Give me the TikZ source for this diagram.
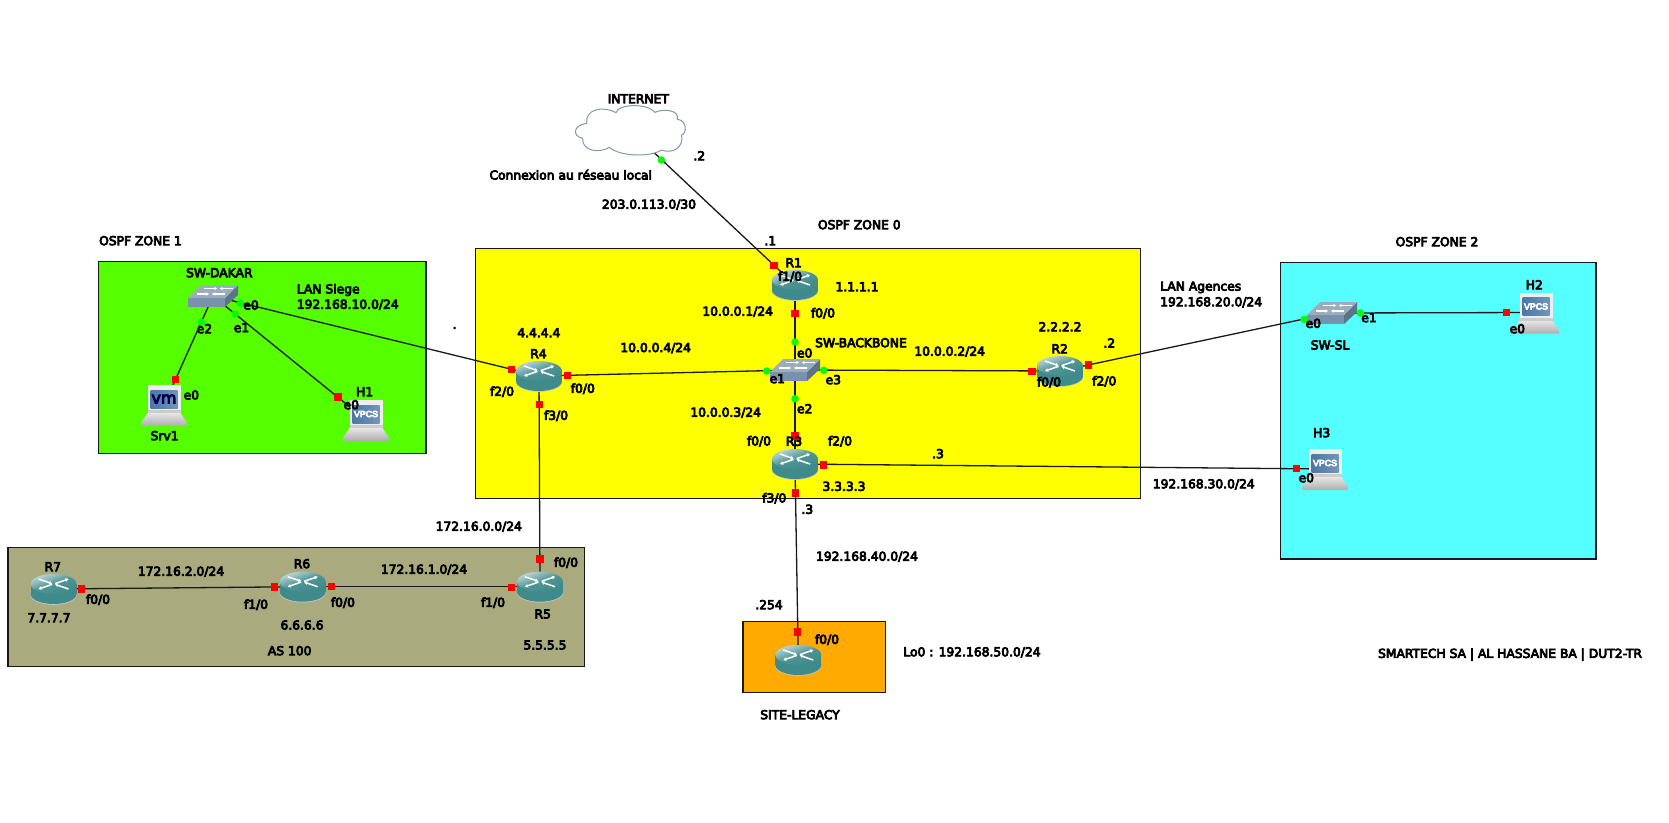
\documentclass[tikz,border=0pt]{standalone}
\usepackage{fontspec}
\usetikzlibrary{arrows.meta}
\setmainfont{DejaVu Sans}
\newfontfamily\lblfont[FakeBold=6]{DejaVu Sans}
\newfontfamily\iconfont[FakeBold=8]{Liberation Sans}
\pgfdeclarelayer{zones}
\pgfdeclarelayer{edges}
\pgfsetlayers{zones,edges,main}
\definecolor{zgreen}{HTML}{55FF00}
\definecolor{zyellow}{HTML}{FFFF00}
\definecolor{zcyan}{HTML}{55FFFF}
\definecolor{zas}{HTML}{AAAA7F}
\definecolor{zorange}{HTML}{FFAA00}
\definecolor{rbody}{HTML}{3F8A8A}
\definecolor{rtop}{HTML}{BFD8D8}
\definecolor{rmid}{HTML}{4F9494}
\definecolor{swtop}{HTML}{9BACBD}
\definecolor{swfront}{HTML}{7892AE}
\definecolor{swside}{HTML}{5C7389}
\definecolor{pcscreen}{HTML}{4A78A6}
\definecolor{cloudline}{HTML}{7C9CA6}
\tikzset{
  zonebox/.style={draw=black!90,line width=1.4pt},
  link/.style={draw=black!90,line width=1.3pt},
  redport/.style={fill=red,draw=none,minimum size=7.5pt,inner sep=0pt,shape=rectangle},
  greenport/.style={fill=green,draw=none,minimum size=7.5pt,inner sep=0pt,shape=circle},
  lbl/.style={font=\lblfont\fontsize{12.3}{14}\selectfont,text=black,inner sep=0pt},
  lblw/.style={lbl,anchor=west},
  iconbox/.style={inner sep=0pt,draw=none,shape=rectangle},
  wharrow/.style={white,line width=1.5pt,-{Stealth[length=3.2pt,width=3.8pt]}}
}
\newcounter{lblc}
\newcommand{\lb}[3]{\stepcounter{lblc}\node[lbl] (txt\arabic{lblc}) at (#1,#2) {#3};}
\newcommand{\lbw}[3]{\stepcounter{lblc}\node[lblw] (txt\arabic{lblc}) at (#1,#2) {#3};}
% router: 46x30 centred at x,y
\newcommand{\router}[3]{%
  \node[iconbox,minimum width=46pt,minimum height=30pt] (#1) at (#2,#3) {};
  \begin{scope}[shift={({#2-23},{#3-15})}]
    \fill[black!22] (23,20.8) ellipse [x radius=23.2pt,y radius=10pt];
    \fill[rbody] (0,10) rectangle (46,20);
    \fill[rbody] (23,20) ellipse [x radius=23pt,y radius=10pt];
    \shade[left color=rtop,right color=rbody,middle color=rmid,shading angle=20] (23,10) ellipse [x radius=23pt,y radius=10pt];
    \draw[wharrow] (8,5) -- (21.5,9.6);
    \draw[wharrow] (21.5,10.4) -- (8,15);
    \draw[wharrow] (24.5,9.6) -- (38,5);
    \draw[wharrow] (38,15) -- (24.5,10.4);
  \end{scope}}
% switch: 50x22 centred at x,y
\newcommand{\switchicon}[3]{%
  \node[iconbox,minimum width=50pt,minimum height=22pt] (#1) at (#2,#3) {};
  \begin{scope}[shift={({#2-25},{#3-11})}]
    \fill[swfront] (0,13) rectangle (37,22);
    \fill[swside] (37,13) -- (50,0) -- (50,10) -- (37,22) -- cycle;
    \fill[swtop] (0,13) -- (13,0) -- (50,0) -- (37,13) -- cycle;
    \draw[white,line width=1.3pt,-{Stealth[length=2.8pt,width=3.4pt]}] (16,3.5) -- (29,3.5);
    \draw[white,line width=1.3pt,-{Stealth[length=2.8pt,width=3.4pt]}] (45,3.5) -- (32,3.5);
    \draw[white,line width=1.3pt,-{Stealth[length=2.8pt,width=3.4pt]}] (9,9) -- (21,9);
    \draw[white,line width=1.3pt,-{Stealth[length=2.8pt,width=3.4pt]}] (37,9) -- (24,9);
  \end{scope}}
% pc: 46x42 centred at x,y
\newcommand{\pcicon}[5]{%
  \node[iconbox,minimum width=46pt,minimum height=42pt] (#1) at (#2,#3) {};
  \begin{scope}[shift={({#2-23},{#3-21})}]
    \shade[top color=black!10,bottom color=black!32] (6.5,29) -- (39.5,29) -- (46,39) -- (46,42) -- (0,42) -- (0,39) -- cycle;
    \fill[black!7] (6.5,1) rectangle (39.5,29);
    \fill[black!20] (6.5,26) rectangle (39.5,29);
    \shade[left color=pcscreen,right color=pcscreen!78!white] (9.5,6) rectangle (36.5,24);
    \node[inner sep=0pt,text=#5] (#1-scr) at (23,15) {#4};
  \end{scope}}
\begin{document}
\begin{tikzpicture}[x=1pt,y=-1pt]
\useasboundingbox (0,0) rectangle (1669,822);
\begin{pgfonlayer}{zones}
  \fill[white] (0,0) rectangle (1669,822);
  \draw[zonebox,fill=zgreen] (98.4,261.3) rectangle (426,453.3);
  \draw[zonebox,fill=zyellow] (475.3,248.3) rectangle (1140.7,498.3);
  \draw[zonebox,fill=zcyan] (1280.3,262.7) rectangle (1596,558.8);
  \draw[zonebox,fill=zas] (8,547.7) rectangle (584.4,666.7);
  \draw[zonebox,fill=zorange] (743,621.3) rectangle (885.3,692.3);
\end{pgfonlayer}

% devices
\node[iconbox,minimum width=109pt,minimum height=47pt] (cloud) at (630,130) {};
\begin{scope}[shift={(460,60)},x=0.33333pt,y=-0.33333pt]
  \draw[fill=white,draw=cloudline,line width=1pt] (380,190)
    .. controls (375,150) and (425,135) .. (468,158)
    .. controls (475,130) and (565,130) .. (585,157)
    .. controls (610,145) and (660,150) .. (652,178)
    .. controls (680,180) and (682,220) .. (665,225)
    .. controls (672,265) and (635,282) .. (605,270)
    .. controls (570,292) and (480,290) .. (448,262)
    .. controls (420,280) and (365,275) .. (368,235)
    .. controls (335,228) and (340,195) .. cycle;
\end{scope}
\router{R1}{795}{285}
\router{R2}{1060}{371}
\router{R3}{795}{464}
\router{R4}{539}{376}
\router{R5}{540}{586.7}
\router{R6}{302.7}{586.7}
\router{R7}{53.6}{589}
\router{RL}{798.3}{660}
\switchicon{SWB}{795}{370}
\switchicon{SWD}{213}{296}
\switchicon{SWS}{1332}{313}
\pcicon{SRV}{164}{405}{\lblfont\fontsize{16}{16}\selectfont vm}{black!70!blue}
\pcicon{H1}{366}{420}{\iconfont\fontsize{8.8}{9}\selectfont VPCS}{white}
\pcicon{H2}{1536}{312.5}{\iconfont\fontsize{8.8}{9}\selectfont VPCS}{white}
\pcicon{H3}{1325}{469}{\iconfont\fontsize{8.8}{9}\selectfont VPCS}{white}

% connectors
\begin{pgfonlayer}{edges}
  \draw[link] (cloud.center) -- (R1.center);
  \draw[link] (R1.center) -- (SWB.center);
  \draw[link] (SWB.center) -- (R4.center);
  \draw[link] (SWB.center) -- (R2.center);
  \draw[link] (SWB.center) -- (R3.center);
  \draw[link] (SWD.center) -- (R4.center);
  \draw[link] (SWD.center) -- (SRV.center);
  \draw[link] (SWD.center) -- (H1.center);
  \draw[link] (R4.center) -- (R5.center);
  \draw[link] (R5.center) -- (R6.center);
  \draw[link] (R6.center) -- (R7.center);
  \draw[link] (R2.center) -- (SWS.center);
  \draw[link] (SWS.center) -- (H2.center);
  \draw[link] (R3.center) -- (H3.center);
  \draw[link] (R3.center) -- (RL.center);
\end{pgfonlayer}

% ports
\foreach \px/\py [count=\i] in {774/265.3,795/313.3,1032/371.3,1088.3/365,795/436,823.3/465,795.3/493,511.7/369.7,567.5/375.7,539.6/404.7,175.7/379.3,338/397,1506.7/312.3,1296.3/468.7,540/559,511.7/587.7,331.4/586.7,274.4/587,81.5/589,797.7/632}
  \node[redport] (rp\i) at (\px,\py) {};
\foreach \px/\py [count=\i] in {661.3/160,795/342,766.7/371,823.7/370.3,795/398.7,240.3/303.3,235/314,201.3/322,1304/319.3,1360.3/313}
  \node[greenport] (gp\i) at (\px,\py) {};

% labels
\lb{140.5}{240.7}{OSPF ZONE 1}
\lb{219.3}{272.7}{SW-DAKAR}
\lbw{296.6}{290}{LAN Siege}
\lbw{296.6}{304.7}{192.168.10.0/24}
\lb{251}{305}{e0}
\lb{241.5}{327.7}{e1}
\lb{204.4}{328.7}{e2}
\lb{191.4}{395}{e0}
\lb{164.6}{435.7}{Srv1}
\lb{364.7}{391.7}{H1}
\lb{351.3}{404.7}{e0}
\lb{454.6}{328}{.}
\lb{538.8}{332.7}{4.4.4.4}
\lb{538.5}{353.7}{R4}
\lb{502}{391.7}{f2/0}
\lb{582.8}{388.7}{f0/0}
\lb{556}{415.7}{f3/0}
\lb{859.3}{224.7}{OSPF ZONE 0}
\lb{770.3}{240.7}{.1}
\lb{793.7}{262.7}{R1}
\lb{790}{276.7}{f1/0}
\lb{857}{286.7}{1.1.1.1}
\lb{737.7}{311.7}{10.0.0.1/24}
\lb{823}{313.3}{f0/0}
\lb{861}{342.7}{SW-BACKBONE}
\lb{804.7}{353}{e0}
\lb{949.7}{351.7}{10.0.0.2/24}
\lb{1060}{326.7}{2.2.2.2}
\lb{1059.7}{348.7}{R2}
\lb{1109.3}{343}{.2}
\lb{655.7}{348}{10.0.0.4/24}
\lb{777.3}{378.7}{e1}
\lb{833.3}{379.7}{e3}
\lb{1049}{382.3}{f0/0}
\lb{1104.3}{381.3}{f2/0}
\lb{804.7}{408.7}{e2}
\lb{725.7}{412.7}{10.0.0.3/24}
\lb{759}{441.3}{f0/0}
\lb{794}{441.3}{R3}
\lb{840}{441.3}{f2/0}
\lb{938}{453.7}{.3}
\lb{844}{486.3}{3.3.3.3}
\lb{774.3}{498.3}{f3/0}
\lb{807.3}{509.3}{.3}
\lb{1203.8}{484.3}{192.168.30.0/24}
\lbw{1160}{287.4}{LAN Agences}
\lbw{1160}{302.3}{192.168.20.0/24}
\lb{1437}{241.7}{OSPF ZONE 2}
\lb{1313.3}{323.3}{e0}
\lb{1369}{317.7}{e1}
\lb{1330}{345}{SW-SL}
\lb{1534.3}{284.7}{H2}
\lb{1517.3}{328.7}{e0}
\lb{1321.7}{432.7}{H3}
\lb{1306.3}{477.7}{e0}
\lb{478.8}{526.7}{172.16.0.0/24}
\lb{566}{562.7}{f0/0}
\lb{52.8}{566.7}{R7}
\lb{181}{571.7}{172.16.2.0/24}
\lb{302}{563.7}{R6}
\lb{424}{569.7}{172.16.1.0/24}
\lb{98}{599.7}{f0/0}
\lb{256}{604.7}{f1/0}
\lb{342.9}{602.7}{f0/0}
\lb{493}{602.7}{f1/0}
\lb{542.7}{614}{R5}
\lb{49}{617.7}{7.7.7.7}
\lb{302}{625}{6.6.6.6}
\lb{289.7}{650.7}{AS 100}
\lb{545}{645}{5.5.5.5}
\lb{867}{556.7}{192.168.40.0/24}
\lb{769}{604.7}{.254}
\lb{827}{639.7}{f0/0}
\lb{972}{652.3}{Lo0 : 192.168.50.0/24}
\lb{800}{714.7}{SITE-LEGACY}
\lb{1510}{654.6}{SMARTECH SA | AL HASSANE BA | DUT2-TR}
\lb{638.3}{98.7}{INTERNET}
\lb{699.3}{155.7}{.2}
\lb{570.7}{174.7}{Connexion au réseau local}
\lb{649}{204.7}{203.0.113.0/30}
\end{tikzpicture}
\end{document}
